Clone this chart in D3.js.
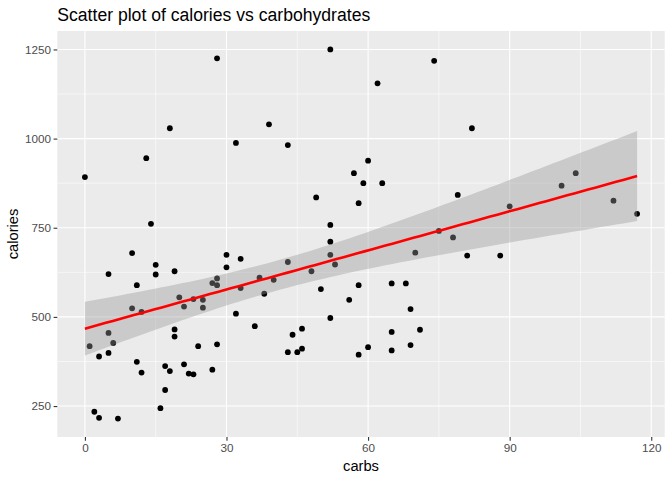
<!DOCTYPE html>
<html>
<head>
<meta charset="utf-8">
<script src="https://cdn.jsdelivr.net/npm/d3@7"></script>
<style>
  html, body { margin: 0; padding: 0; background: #fff; }
  svg { display: block; font-family: "Liberation Sans", Arial, Helvetica, sans-serif; }
</style>
</head>
<body>
<svg id="chart" width="672" height="480"></svg>
<script>
// Data
const carbs = [0,1,2,3,3,5,5,5,6,7,10,10,11,11,12,12,13,14,15,15,16,17,17,18,18,19,19,19,20,21,21,22,23,23,24,25,25,27,27,28,28,28,28,30,30,32,32,33,33,36,37,38,39,40,43,43,43,44,45,46,46,48,49,50,52,52,52,52,52,53,56,57,58,58,58,59,60,60,62,63,65,65,65,68,69,69,70,71,74,75,78,79,81,82,88,90,101,104,112,117];
const calories = [892,418,234,389,217,620,455,399,427,215,679,524,589,374,514,344,945,761,646,619,244,362,295,1029,348,628,465,445,555,529,367,341,550,339,418,548,526,595,352,1225,608,589,423,674,639,988,509,663,581,474,610,565,1040,604,982,654,401,450,401,467,411,628,835,578,1250,758,711,674,497,647,548,903,819,589,394,875,938,415,1155,875,594,458,406,594,522,421,680,464,1218,741,723,842,672,1029,672,810,868,903,826,789];
const xTicks = [0, 30, 60, 90, 120];
const yTicks = [250, 500, 750, 1000, 1250];
const xMinor = [15, 45, 75, 105];
const yMinor = [375, 625, 875, 1125];
const titleText = "Scatter plot of calories vs carbohydrates";
const xTitle = "carbs";
const yTitle = "calories";

const points = carbs.map((c, i) => ({ x: c, y: calories[i] }));

const svg = d3.select("#chart");
const panel = { left: 57.3, right: 664.7, top: 31, bottom: 437 };

const xExt = d3.extent(carbs), yExt = d3.extent(calories);
const xPad = (xExt[1] - xExt[0]) * 0.05, yPad = (yExt[1] - yExt[0]) * 0.05;
const x = d3.scaleLinear().domain([xExt[0] - xPad, xExt[1] + xPad]).range([panel.left, panel.right]);
const y = d3.scaleLinear().domain([yExt[0] - yPad, yExt[1] + yPad]).range([panel.bottom, panel.top]);

// panel background
svg.append("rect").attr("x", panel.left).attr("y", panel.top)
  .attr("width", panel.right - panel.left).attr("height", panel.bottom - panel.top)
  .attr("fill", "#EBEBEB");

const grid = svg.append("g");
grid.selectAll(".xm").data(xMinor).join("line")
  .attr("x1", d => x(d)).attr("x2", d => x(d)).attr("y1", panel.top).attr("y2", panel.bottom)
  .attr("stroke", "#fff").attr("stroke-width", 0.55);
grid.selectAll(".ym").data(yMinor).join("line")
  .attr("y1", d => y(d)).attr("y2", d => y(d)).attr("x1", panel.left).attr("x2", panel.right)
  .attr("stroke", "#fff").attr("stroke-width", 0.55);
grid.selectAll(".xM").data(xTicks).join("line")
  .attr("x1", d => x(d)).attr("x2", d => x(d)).attr("y1", panel.top).attr("y2", panel.bottom)
  .attr("stroke", "#fff").attr("stroke-width", 1.1);
grid.selectAll(".yM").data(yTicks).join("line")
  .attr("y1", d => y(d)).attr("y2", d => y(d)).attr("x1", panel.left).attr("x2", panel.right)
  .attr("stroke", "#fff").attr("stroke-width", 1.1);

// points
svg.append("g").selectAll("circle").data(points).join("circle")
  .attr("cx", d => x(d.x)).attr("cy", d => y(d.y)).attr("r", 2.9).attr("fill", "#000");

// linear fit with 95% confidence band (like geom_smooth(method = "lm"))
const n = points.length;
const xbar = d3.mean(carbs), ybar = d3.mean(calories);
let sxx = 0, sxy = 0;
points.forEach(p => { sxx += (p.x - xbar) ** 2; sxy += (p.x - xbar) * (p.y - ybar); });
const b = sxy / sxx, a = ybar - b * xbar;
let sse = 0;
points.forEach(p => { sse += (p.y - (a + b * p.x)) ** 2; });
const s = Math.sqrt(sse / (n - 2));
const tq = 1.985;
const grid80 = d3.range(80).map(i => xExt[0] + (xExt[1] - xExt[0]) * i / 79);
const fit = grid80.map(xv => {
  const f = a + b * xv;
  const se = s * Math.sqrt(1 / n + (xv - xbar) ** 2 / sxx);
  return { x: xv, y: f, lo: f - tq * se, hi: f + tq * se };
});
svg.append("path").datum(fit)
  .attr("d", d3.area().x(d => x(d.x)).y0(d => y(d.lo)).y1(d => y(d.hi)))
  .attr("fill", "#999999").attr("fill-opacity", 0.4);
svg.append("path").datum(fit)
  .attr("d", d3.line().x(d => x(d.x)).y(d => y(d.y)))
  .attr("fill", "none").attr("stroke", "#FF0000").attr("stroke-width", 2.6);

// axes
const xAxis = d3.axisBottom(x).tickValues(xTicks).tickFormat(d3.format("d")).tickSize(3.7).tickPadding(2.5);
const gx = svg.append("g").attr("transform", `translate(0,${panel.bottom})`).call(xAxis);
const yAxis = d3.axisLeft(y).tickValues(yTicks).tickFormat(d3.format("d")).tickSize(3.7).tickPadding(2.5);
const gy = svg.append("g").attr("transform", `translate(${panel.left},0)`).call(yAxis);
[gx, gy].forEach(g => {
  g.select(".domain").remove();
  g.selectAll(".tick line").attr("stroke", "#333333").attr("stroke-width", 1.1);
  g.selectAll(".tick text").attr("fill", "#4D4D4D").style("font-size", "11.7px")
    .style("font-family", "'Liberation Sans', Arial, sans-serif");
});

// titles
svg.append("text").attr("x", panel.left).attr("y", 21)
  .attr("fill", "#000").style("font-size", "17.6px").text(titleText);
svg.append("text").attr("x", (panel.left + panel.right) / 2).attr("y", 471)
  .attr("text-anchor", "middle").attr("fill", "#000").style("font-size", "14.7px").text(xTitle);
svg.append("text").attr("transform", `translate(18,${(panel.top + panel.bottom) / 2}) rotate(-90)`)
  .attr("text-anchor", "middle").attr("fill", "#000").style("font-size", "14.7px").text(yTitle);
</script>
</body>
</html>
